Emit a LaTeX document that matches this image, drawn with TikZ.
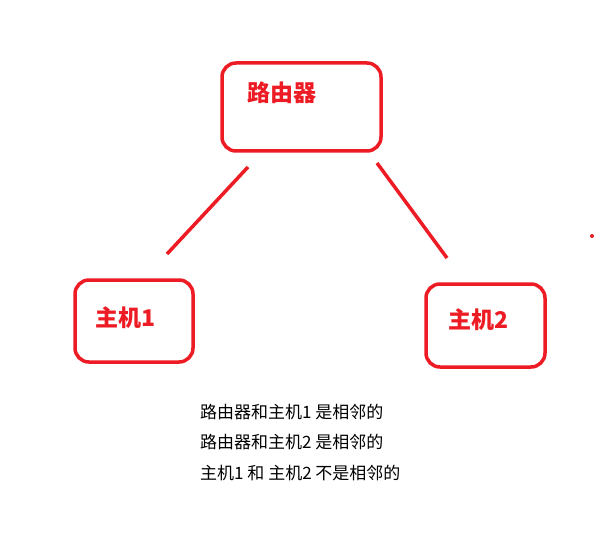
\documentclass[tikz,border=0pt]{standalone}
\usepackage{fontspec}
\newfontfamily\cjk{Noto Sans CJK SC}
\definecolor{rd}{RGB}{237,28,36}
\begin{document}
\begin{tikzpicture}[x=1pt,y=-1pt,
 box/.style={draw=rd,line width=3.5pt,rounded corners=14pt},
 lbl/.style={text=rd,font=\cjk\bfseries\fontsize{23}{23}\selectfont,anchor=west,inner sep=0pt},
 ln/.style={draw=rd,line width=3.5pt},
 note/.style={font=\cjk\fontsize{17}{17}\selectfont,anchor=west,inner sep=0pt}]
\useasboundingbox (0,0) rectangle (602,545);
\draw[box] (222,63) rectangle (381,151);
\draw[box] (75,280) rectangle (193,362);
\draw[box] (426,284) rectangle (545,367);
\node[lbl] (r) at (247,93) {路由器};
\node[lbl] (h1) at (95,318) {主机1};
\node[lbl] (h2) at (448,320) {主机2};
\coordinate (a1) at (248,167); \coordinate (a2) at (167,254);
\coordinate (b1) at (377,163); \coordinate (b2) at (447,258);
\draw[ln] (a1) -- (a2);
\draw[ln] (b1) -- (b2);
\fill[rd] (592,236) circle (2pt);
\node[note] (t1) at (200,412) {路由器和主机1 是相邻的};
\node[note] (t2) at (200,442) {路由器和主机2 是相邻的};
\node[note] (t3) at (200,473) {主机1 和 主机2 不是相邻的};
\end{tikzpicture}
\end{document}
